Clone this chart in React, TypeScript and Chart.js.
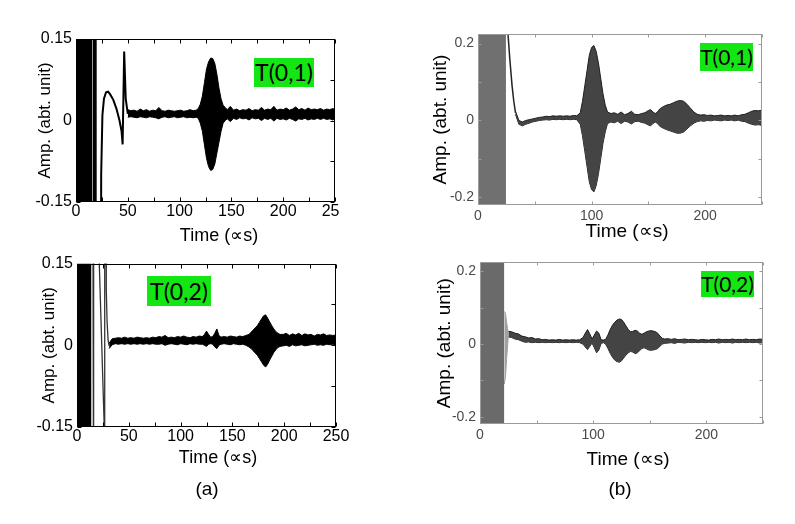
import React, { useEffect, useRef } from "react";
import { Chart, registerables } from "chart.js";
Chart.register(...registerables);

// ---------- Panel (a) top: T(0,1) ----------
const a1BlockT = [0, 15.5];
const a1BlockHi = [1, 1];
const a1BlockLo = [-1, -1];
const a1TraceT = [16.5, 17, 18.5, 19, 23.5, 24.3, 25.5, 27, 29, 31, 33, 36, 39, 42, 44, 45, 46.5, 48, 50];
const a1TraceY = [-1, 1, 1, -1, -1, -0.1, 0.01, 0.04, 0.052, 0.053, 0.048, 0.038, 0.022, 0.0, -0.02, -0.044, 0.127, 0.04, 0.012];
const a1T = [
  50, 53, 56, 59, 62, 65, 68, 71, 74, 77,
  80, 83, 86, 89, 92, 95, 98, 101, 104, 107,
  110, 113, 116, 118, 120, 122, 124, 126, 128, 130,
  132, 134, 136, 138, 140, 142, 144, 146, 149, 152,
  155, 158, 161, 164, 167, 170, 173, 176, 179, 182,
  185, 188, 191, 194, 197, 200, 203, 206, 209, 212,
  215, 218, 221, 224, 227, 230, 233, 236, 239, 242,
  245, 248, 250,
];
const a1Hi = [
  0.020, 0.018, 0.019, 0.017, 0.021, 0.018, 0.020, 0.017, 0.019, 0.018,
  0.024, 0.018, 0.017, 0.019, 0.018, 0.017, 0.018, 0.019, 0.017, 0.018,
  0.020, 0.018, 0.019, 0.022, 0.030, 0.045, 0.070, 0.095, 0.108, 0.115,
  0.114, 0.105, 0.085, 0.060, 0.040, 0.028, 0.024, 0.020, 0.026, 0.019,
  0.021, 0.018, 0.020, 0.019, 0.022, 0.018, 0.020, 0.019, 0.024, 0.019,
  0.021, 0.020, 0.026, 0.019, 0.021, 0.020, 0.023, 0.019, 0.021, 0.025,
  0.020, 0.022, 0.019, 0.023, 0.020, 0.021, 0.020, 0.022, 0.019, 0.021,
  0.020, 0.022, 0.020,
];
const a1Lo = [
  0.006, 0.007, 0.006, 0.005, 0.007, 0.006, 0.005, 0.007, 0.006, 0.005,
  0.003, 0.006, 0.007, 0.005, 0.006, 0.007, 0.005, 0.006, 0.007, 0.005,
  0.006, 0.005, 0.006, 0.004, -0.005, -0.020, -0.045, -0.070, -0.085, -0.092,
  -0.090, -0.080, -0.060, -0.040, -0.020, -0.005, 0.000, 0.003, -0.002, 0.004,
  0.002, 0.005, 0.003, 0.004, 0.001, 0.005, 0.003, 0.004, 0.000, 0.004,
  0.002, 0.004, -0.001, 0.004, 0.002, 0.003, 0.001, 0.004, 0.002, -0.001,
  0.003, 0.002, 0.004, 0.001, 0.003, 0.002, 0.004, 0.002, 0.004, 0.002,
  0.003, 0.001, 0.003,
];

// ---------- Panel (a) bottom: T(0,2) ----------
const a2BlockT = [0, 14];
const a2BlockHi = [1, 1];
const a2BlockLo = [-1, -1];
const a2TraceT = [14.5, 15.3, 15.8, 16.0, 16.1, 21.3, 21.5, 26.3, 26.5, 27.0, 27.6, 28.3, 29, 30, 31];
const a2TraceY = [1, 1, -0.13, -1, 1, 1, 0.15, -0.15, -1, 1, 1, 0.1, 0.045, 0.01, -0.001];
const a2T = [
  31, 34, 37, 40, 43, 46, 49, 52, 55, 58,
  61, 64, 67, 70, 73, 76, 79, 82, 85, 88,
  91, 94, 97, 100, 103, 106, 109, 112, 115, 118,
  121, 123, 125, 127, 129, 131, 133, 135, 137, 139,
  142, 145, 148, 151, 154, 157, 160, 163, 166, 168,
  170, 172, 174, 176, 178, 180, 182, 184, 186, 188,
  190, 192, 194, 196, 199, 202, 205, 208, 211, 214,
  217, 220, 223, 226, 229, 232, 235, 238, 241, 244,
  247, 250,
];
const a2Hi = [
  0.004, 0.012, 0.013, 0.014, 0.013, 0.015, 0.013, 0.014, 0.013, 0.015,
  0.014, 0.013, 0.014, 0.013, 0.015, 0.014, 0.016, 0.015, 0.018, 0.014,
  0.015, 0.014, 0.016, 0.015, 0.017, 0.015, 0.014, 0.016, 0.015, 0.017,
  0.016, 0.020, 0.026, 0.020, 0.015, 0.016, 0.022, 0.030, 0.018, 0.015,
  0.016, 0.015, 0.017, 0.016, 0.015, 0.017, 0.016, 0.018, 0.020, 0.024,
  0.028, 0.032, 0.036, 0.042, 0.048, 0.054, 0.056, 0.050, 0.043, 0.036,
  0.030, 0.025, 0.022, 0.020, 0.020, 0.022, 0.018, 0.021, 0.019, 0.022,
  0.018, 0.021, 0.019, 0.020, 0.017, 0.020, 0.019, 0.021, 0.018, 0.019,
  0.018, 0.019,
];
const a2Lo = [
  -0.006, 0.001, 0.003, 0.002, 0.003, 0.002, 0.003, 0.002, 0.003, 0.002,
  0.003, 0.002, 0.003, 0.002, 0.003, 0.002, 0.002, 0.003, 0.000, 0.002,
  0.003, 0.002, 0.001, 0.003, 0.002, 0.001, 0.003, 0.002, 0.003, 0.002,
  0.002, 0.000, -0.002, 0.002, 0.003, 0.002, -0.003, -0.006, 0.000, 0.002,
  0.003, 0.002, 0.001, 0.003, 0.002, 0.001, 0.002, 0.000, -0.003, -0.006,
  -0.010, -0.014, -0.018, -0.024, -0.030, -0.036, -0.040, -0.035, -0.027, -0.020,
  -0.013, -0.008, -0.004, -0.002, -0.001, 0.000, -0.002, 0.001, -0.001, 0.000,
  0.001, -0.001, 0.000, 0.001, 0.002, 0.000, 0.001, 0.000, 0.002, 0.001,
  0.002, 0.001,
];

// ---------- Panel (b) top: T(0,1) ----------
const b1BlockT = [0, 24.6];
const b1BlockHi = [1, 1];
const b1BlockLo = [-1, -1];
const b1TraceT = [25.8, 26.4, 28, 30, 31.5, 33];
const b1TraceY = [1, 0.225, 0.16, 0.09, 0.05, 0.02];
const b1T = [
  33, 36, 39, 42, 45, 48, 51, 54, 57, 60,
  63, 66, 69, 72, 75, 78, 81, 84, 87, 90,
  92, 94, 96, 98, 100, 102, 104, 106, 108, 110,
  112, 114, 117, 120, 123, 126, 129, 132, 135, 138,
  141, 144, 147, 150, 152, 154, 156, 158, 160, 163,
  166, 169, 172, 175, 178, 181, 184, 187, 190, 193,
  196, 199, 202, 205, 208, 211, 214, 217, 220, 223,
  226, 229, 232, 235, 238, 241, 244, 247, 250,
];
const b1Hi = [
  0.024, 0.000, -0.004, 0.000, 0.002, 0.004, 0.006, 0.008, 0.009, 0.011,
  0.010, 0.012, 0.011, 0.012, 0.011, 0.012, 0.011, 0.013, 0.012, 0.020,
  0.050, 0.090, 0.130, 0.170, 0.190, 0.195, 0.180, 0.150, 0.110, 0.070,
  0.040, 0.022, 0.018, 0.020, 0.016, 0.022, 0.015, 0.018, 0.024, 0.016,
  0.015, 0.018, 0.020, 0.026, 0.028, 0.022, 0.018, 0.022, 0.030, 0.036,
  0.040, 0.042, 0.046, 0.050, 0.052, 0.050, 0.042, 0.032, 0.022, 0.016,
  0.014, 0.015, 0.013, 0.014, 0.012, 0.013, 0.014, 0.012, 0.013, 0.012,
  0.014, 0.012, 0.015, 0.016, 0.020, 0.024, 0.026, 0.025, 0.027,
];
const b1Lo = [
  0.016, -0.010, -0.014, -0.010, -0.007, -0.004, -0.002, 0.000, 0.001, 0.002,
  0.001, 0.003, 0.002, 0.003, 0.002, 0.003, 0.002, 0.003, 0.002, -0.010,
  -0.040, -0.080, -0.120, -0.160, -0.180, -0.186, -0.170, -0.140, -0.100, -0.060,
  -0.030, -0.008, -0.004, -0.006, -0.002, -0.008, -0.002, -0.004, -0.009, -0.003,
  -0.002, -0.005, -0.007, -0.012, -0.014, -0.008, -0.004, -0.008, -0.015, -0.020,
  -0.024, -0.027, -0.030, -0.033, -0.033, -0.030, -0.022, -0.014, -0.007, -0.003,
  -0.001, -0.002, 0.000, -0.001, 0.001, 0.000, -0.001, 0.001, 0.000, 0.001,
  -0.001, 0.001, -0.002, -0.003, -0.007, -0.010, -0.012, -0.011, -0.013,
];

// ---------- Panel (b) bottom: T(0,2) ----------
const b2BlockT = [0, 21.5];
const b2BlockHi = [1, 1];
const b2BlockLo = [-1, -1];
const b2RingT = [21.5, 22.5, 23.5, 24.5, 25];
const b2RingHi = [0.09, 0.085, 0.06, 0.04, 0.035];
const b2RingLo = [-0.11, -0.09, -0.04, 0.0, 0.02];
const b2T = [
  25, 28, 31, 34, 37, 40, 43, 46, 49, 52,
  55, 58, 61, 64, 67, 70, 73, 76, 79, 82,
  85, 88, 91, 93, 95, 97, 99, 101, 103, 105,
  107, 109, 111, 113, 115, 117, 119, 121, 123, 125,
  127, 129, 131, 133, 135, 137, 139, 141, 143, 145,
  147, 149, 151, 153, 155, 157, 159, 161, 163, 166,
  169, 172, 175, 178, 181, 184, 187, 190, 193, 196,
  199, 202, 205, 208, 211, 214, 217, 220, 223, 226,
  229, 232, 235, 238, 241, 244, 247, 250,
];
const b2Hi = [
  0.035, 0.034, 0.030, 0.028, 0.022, 0.020, 0.017, 0.018, 0.014, 0.015,
  0.012, 0.013, 0.011, 0.012, 0.011, 0.013, 0.011, 0.012, 0.011, 0.012,
  0.011, 0.012, 0.018, 0.030, 0.040, 0.028, 0.014, 0.025, 0.036, 0.030,
  0.012, 0.011, 0.013, 0.025, 0.040, 0.052, 0.060, 0.066, 0.069, 0.068,
  0.060, 0.050, 0.040, 0.034, 0.035, 0.038, 0.036, 0.030, 0.027, 0.030,
  0.034, 0.036, 0.037, 0.036, 0.034, 0.030, 0.022, 0.016, 0.014, 0.015,
  0.013, 0.015, 0.012, 0.013, 0.014, 0.012, 0.013, 0.012, 0.011, 0.013,
  0.012, 0.011, 0.013, 0.012, 0.014, 0.012, 0.013, 0.012, 0.014, 0.012,
  0.013, 0.012, 0.014, 0.012, 0.013, 0.012, 0.014, 0.013,
];
const b2Lo = [
  0.020, 0.018, 0.014, 0.012, 0.008, 0.005, 0.006, 0.004, 0.005, 0.004,
  0.005, 0.004, 0.005, 0.004, 0.005, 0.004, 0.005, 0.004, 0.005, 0.004,
  0.005, 0.004, 0.000, -0.008, -0.015, -0.006, 0.003, -0.010, -0.024, -0.016,
  0.002, 0.004, 0.000, -0.012, -0.025, -0.036, -0.044, -0.048, -0.050, -0.046,
  -0.038, -0.030, -0.024, -0.020, -0.022, -0.026, -0.024, -0.018, -0.012, -0.010,
  -0.013, -0.016, -0.017, -0.016, -0.015, -0.012, -0.006, 0.000, 0.002, 0.003,
  0.004, 0.002, 0.005, 0.004, 0.003, 0.005, 0.004, 0.005, 0.004, 0.005,
  0.004, 0.005, 0.004, 0.005, 0.003, 0.005, 0.004, 0.005, 0.003, 0.005,
  0.004, 0.005, 0.004, 0.005, 0.004, 0.005, 0.003, 0.004,
];

// ---------- axis labels ----------
const xTitle = "Time (∝s)";
const yTitle = "Amp. (abt. unit)";
const aYTicks = [-0.15, 0, 0.15];
const bYTicks = [-0.2, 0, 0.2];
const aXTicks = [0, 50, 100, 150, 200, 250];
const bXTicks = [0, 100, 200];

const SANS = "'Liberation Sans', Arial, sans-serif";

const band = (t: number[], hi: number[], lo: number[], fillColor: string, edge: string, w = 1) => [
  { data: t.map((x, i) => ({ x, y: hi[i] })), borderColor: edge, backgroundColor: fillColor, borderWidth: w, fill: "+1", pointRadius: 0, clip: 0 },
  { data: t.map((x, i) => ({ x, y: lo[i] })), borderColor: edge, backgroundColor: fillColor, borderWidth: w, fill: false, pointRadius: 0, clip: 0 },
];
const trace = (t: number[], y: number[], color: string, w: number) => ({
  data: t.map((x, i) => ({ x, y: y[i] })), borderColor: color, borderWidth: w, fill: false, pointRadius: 0, clip: 0,
});

const framePlugin = {
  id: "frame",
  afterDatasetsDraw(chart: any, _args: any, opts: any) {
    const { ctx, chartArea } = chart;
    const { left, right, top, bottom } = chartArea;
    const xs = chart.scales.x;
    const ys = chart.scales.y;
    ctx.save();
    ctx.strokeStyle = opts.color;
    ctx.lineWidth = 1;
    const L = Math.round(left) + 0.5, R = Math.round(right) - 0.5, T = Math.round(top) + 0.5, B = Math.round(bottom) - 0.5;
    ctx.strokeRect(L, T, R - L, B - T);
    ctx.beginPath();
    for (let i = Math.ceil(xs.min / opts.xStep - 1e-9); i * opts.xStep <= xs.max + 1e-9; i++) {
      const px = Math.round(xs.getPixelForValue(i * opts.xStep)) + 0.5;
      ctx.moveTo(px, B); ctx.lineTo(px, B - opts.len);
      ctx.moveTo(px, T); ctx.lineTo(px, T + opts.len);
    }
    for (let i = Math.ceil(ys.min / opts.yStep - 1e-9); i * opts.yStep <= ys.max + 1e-9; i++) {
      const py = Math.round(ys.getPixelForValue(i * opts.yStep)) + 0.5;
      ctx.moveTo(L, py); ctx.lineTo(L + opts.len, py);
      ctx.moveTo(R, py); ctx.lineTo(R - opts.len, py);
    }
    ctx.stroke();
    ctx.restore();
  },
};

type Spec = {
  datasets: any[];
  yMin: number; yMax: number; yTicks: number[]; yFmt: (v: number) => string;
  xTicks: number[];
  tickSize: number; tickColor: string;
  yTitleSize: number; yTitlePad: number;
  yWidth: number; xHeight: number;
  padTop: number; padRight: number;
  xPad: number; yPad: number;
  frameColor: string; xStep: number; yStep: number; tickLen: number;
};

function buildConfig(s: Spec): any {
  return {
    type: "line",
    data: { datasets: s.datasets },
    plugins: [framePlugin],
    options: {
      animation: false,
      responsive: false,
      devicePixelRatio: 1,
      layout: { padding: { top: s.padTop, right: s.padRight, left: 0, bottom: 0 } },
      plugins: {
        legend: { display: false },
        tooltip: { enabled: false },
        frame: { color: s.frameColor, xStep: s.xStep, yStep: s.yStep, len: s.tickLen },
      },
      elements: { line: { tension: 0 } },
      scales: {
        x: {
          type: "linear",
          min: 0,
          max: 250,
          grid: { display: false, drawTicks: false },
          border: { display: false },
          afterBuildTicks: (sc: any) => { sc.ticks = s.xTicks.map((v) => ({ value: v })); },
          ticks: {
            autoSkip: false, maxRotation: 0, padding: s.xPad, color: s.tickColor,
            font: { family: SANS, size: s.tickSize },
            callback: (v: any) => String(v),
          },
          afterFit: (sc: any) => { sc.height = s.xHeight; },
        },
        y: {
          type: "linear",
          min: s.yMin,
          max: s.yMax,
          grid: { display: false, drawTicks: false },
          border: { display: false },
          afterBuildTicks: (sc: any) => { sc.ticks = s.yTicks.map((v) => ({ value: v })); },
          ticks: {
            autoSkip: false, padding: s.yPad, color: s.tickColor,
            font: { family: SANS, size: s.tickSize },
            callback: (v: any) => s.yFmt(Number(v)),
          },
          title: {
            display: true, text: yTitle, color: "#000",
            font: { family: SANS, size: s.yTitleSize },
            padding: { top: s.yTitlePad, bottom: 0 },
          },
          afterFit: (sc: any) => { sc.width = s.yWidth; },
        },
      },
    },
  };
}

const fmtA = (v: number) => (Math.abs(v) < 1e-9 ? "0" : v.toFixed(2));
const fmtB = (v: number) => (Math.abs(v) < 1e-9 ? "0" : v.toFixed(1));

const specA1: Spec = {
  datasets: [
    ...band(a1BlockT, a1BlockHi, a1BlockLo, "#000", "#000"),
    trace(a1TraceT, a1TraceY, "#000", 2),
    ...band(a1T, a1Hi, a1Lo, "#000", "#000"),
  ],
  yMin: -0.15, yMax: 0.15, yTicks: aYTicks, yFmt: fmtA, xTicks: aXTicks,
  tickSize: 16, tickColor: "#000", yTitleSize: 17, yTitlePad: 35.3,
  yWidth: 76, xHeight: 48, padTop: 39, padRight: 30, xPad: 0, yPad: 4,
  frameColor: "#000", xStep: 25, yStep: 0.075, tickLen: 4,
};
const specA2: Spec = {
  datasets: [
    ...band(a2BlockT, a2BlockHi, a2BlockLo, "#000", "#000"),
    trace(a2TraceT, a2TraceY, "#333", 1.3),
    ...band(a2T, a2Hi, a2Lo, "#000", "#000"),
  ],
  yMin: -0.15, yMax: 0.15, yTicks: aYTicks, yFmt: fmtA, xTicks: aXTicks,
  tickSize: 16, tickColor: "#000", yTitleSize: 17, yTitlePad: 38.8,
  yWidth: 77, xHeight: 53, padTop: 12, padRight: 29, xPad: 0, yPad: 4,
  frameColor: "#000", xStep: 25, yStep: 0.075, tickLen: 4,
};
const specB1: Spec = {
  datasets: [
    ...band(b1BlockT, b1BlockHi, b1BlockLo, "#707070", "#707070"),
    trace(b1TraceT, b1TraceY, "#222", 1.5),
    ...band(b1T, b1Hi, b1Lo, "#444", "#1e1e1e"),
  ],
  yMin: -0.22, yMax: 0.225, yTicks: bYTicks, yFmt: fmtB, xTicks: bXTicks,
  tickSize: 14, tickColor: "#4a4a4a", yTitleSize: 19, yTitlePad: 29.6,
  yWidth: 78, xHeight: 45, padTop: 34, padRight: 28, xPad: 3, yPad: 4,
  frameColor: "#9a9a9a", xStep: 50, yStep: 0.1, tickLen: 3,
};
const specB2: Spec = {
  datasets: [
    ...band(b2BlockT, b2BlockHi, b2BlockLo, "#6a6a6a", "#6a6a6a"),
    ...band(b2RingT, b2RingHi, b2RingLo, "#a0a0a0", "#a0a0a0"),
    ...band(b2T, b2Hi, b2Lo, "#444", "#1e1e1e"),
  ],
  yMin: -0.22, yMax: 0.225, yTicks: bYTicks, yFmt: fmtB, xTicks: bXTicks,
  tickSize: 14, tickColor: "#4a4a4a", yTitleSize: 19, yTitlePad: 33.6,
  yWidth: 80, xHeight: 56, padTop: 6, padRight: 27, xPad: 3, yPad: 4,
  frameColor: "#9a9a9a", xStep: 50, yStep: 0.1, tickLen: 3,
};

function Panel(props: { left: number; top: number; wrapW: number; wrapH: number; w: number; h: number; spec: Spec }) {
  const ref = useRef<HTMLCanvasElement | null>(null);
  useEffect(() => {
    if (!ref.current) return;
    const chart = new Chart(ref.current, buildConfig(props.spec));
    return () => chart.destroy();
  }, []);
  return (
    <div style={{ position: "absolute", left: props.left, top: props.top, width: props.wrapW, height: props.wrapH, overflow: "hidden" }}>
      <canvas ref={ref} width={props.w} height={props.h} style={{ width: props.w, height: props.h, display: "block" }} />
    </div>
  );
}

function Label(props: { cx: number; cy: number; size: number; text: string }) {
  return (
    <div style={{
      position: "absolute", left: props.cx, top: props.cy, transform: "translate(-50%, -50%)",
      fontFamily: SANS, fontSize: props.size, color: "#000", whiteSpace: "nowrap", lineHeight: 1,
    }}>{props.text}</div>
  );
}

function Tag(props: { left: number; top: number; w: number; h: number; size: number; text: string }) {
  return (
    <div style={{
      position: "absolute", left: props.left, top: props.top, width: props.w, height: props.h,
      background: "#14e614", color: "#000", fontFamily: "Lato, 'Open Sans', sans-serif", fontSize: props.size,
      lineHeight: props.h + "px", textAlign: "center", whiteSpace: "nowrap",
    }}>{props.text}</div>
  );
}

export default function App() {
  return (
    <div style={{ position: "absolute", left: 0, top: 0, width: 795, height: 524, background: "#fff", overflow: "hidden" }}>
      <Panel left={0} top={0} wrapW={340} wrapH={250} w={365} h={250} spec={specA1} />
      <Panel left={0} top={250} wrapW={365} wrapH={230} w={365} h={230} spec={specA2} />
      <Panel left={400} top={0} wrapW={390} wrapH={250} w={390} h={250} spec={specB1} />
      <Panel left={400} top={250} wrapW={390} wrapH={230} w={390} h={230} spec={specB2} />
      <Label cx={219} cy={235} size={18} text={xTitle} />
      <Label cx={218} cy={456.5} size={18} text={xTitle} />
      <Label cx={627} cy={230} size={19} text={xTitle} />
      <Label cx={628} cy={458} size={19} text={xTitle} />
      <Label cx={207} cy={488} size={19} text="(a)" />
      <Label cx={620} cy={488} size={19} text="(b)" />
      <Tag left={254} top={58} w={60} h={29} size={23} text="T(0,1)" />
      <Tag left={147} top={276} w={64} h={30} size={23} text="T(0,2)" />
      <Tag left={700} top={43} w={53} h={28} size={21} text="T(0,1)" />
      <Tag left={701} top={271} w={53} h={26} size={21} text="T(0,2)" />
    </div>
  );
}
